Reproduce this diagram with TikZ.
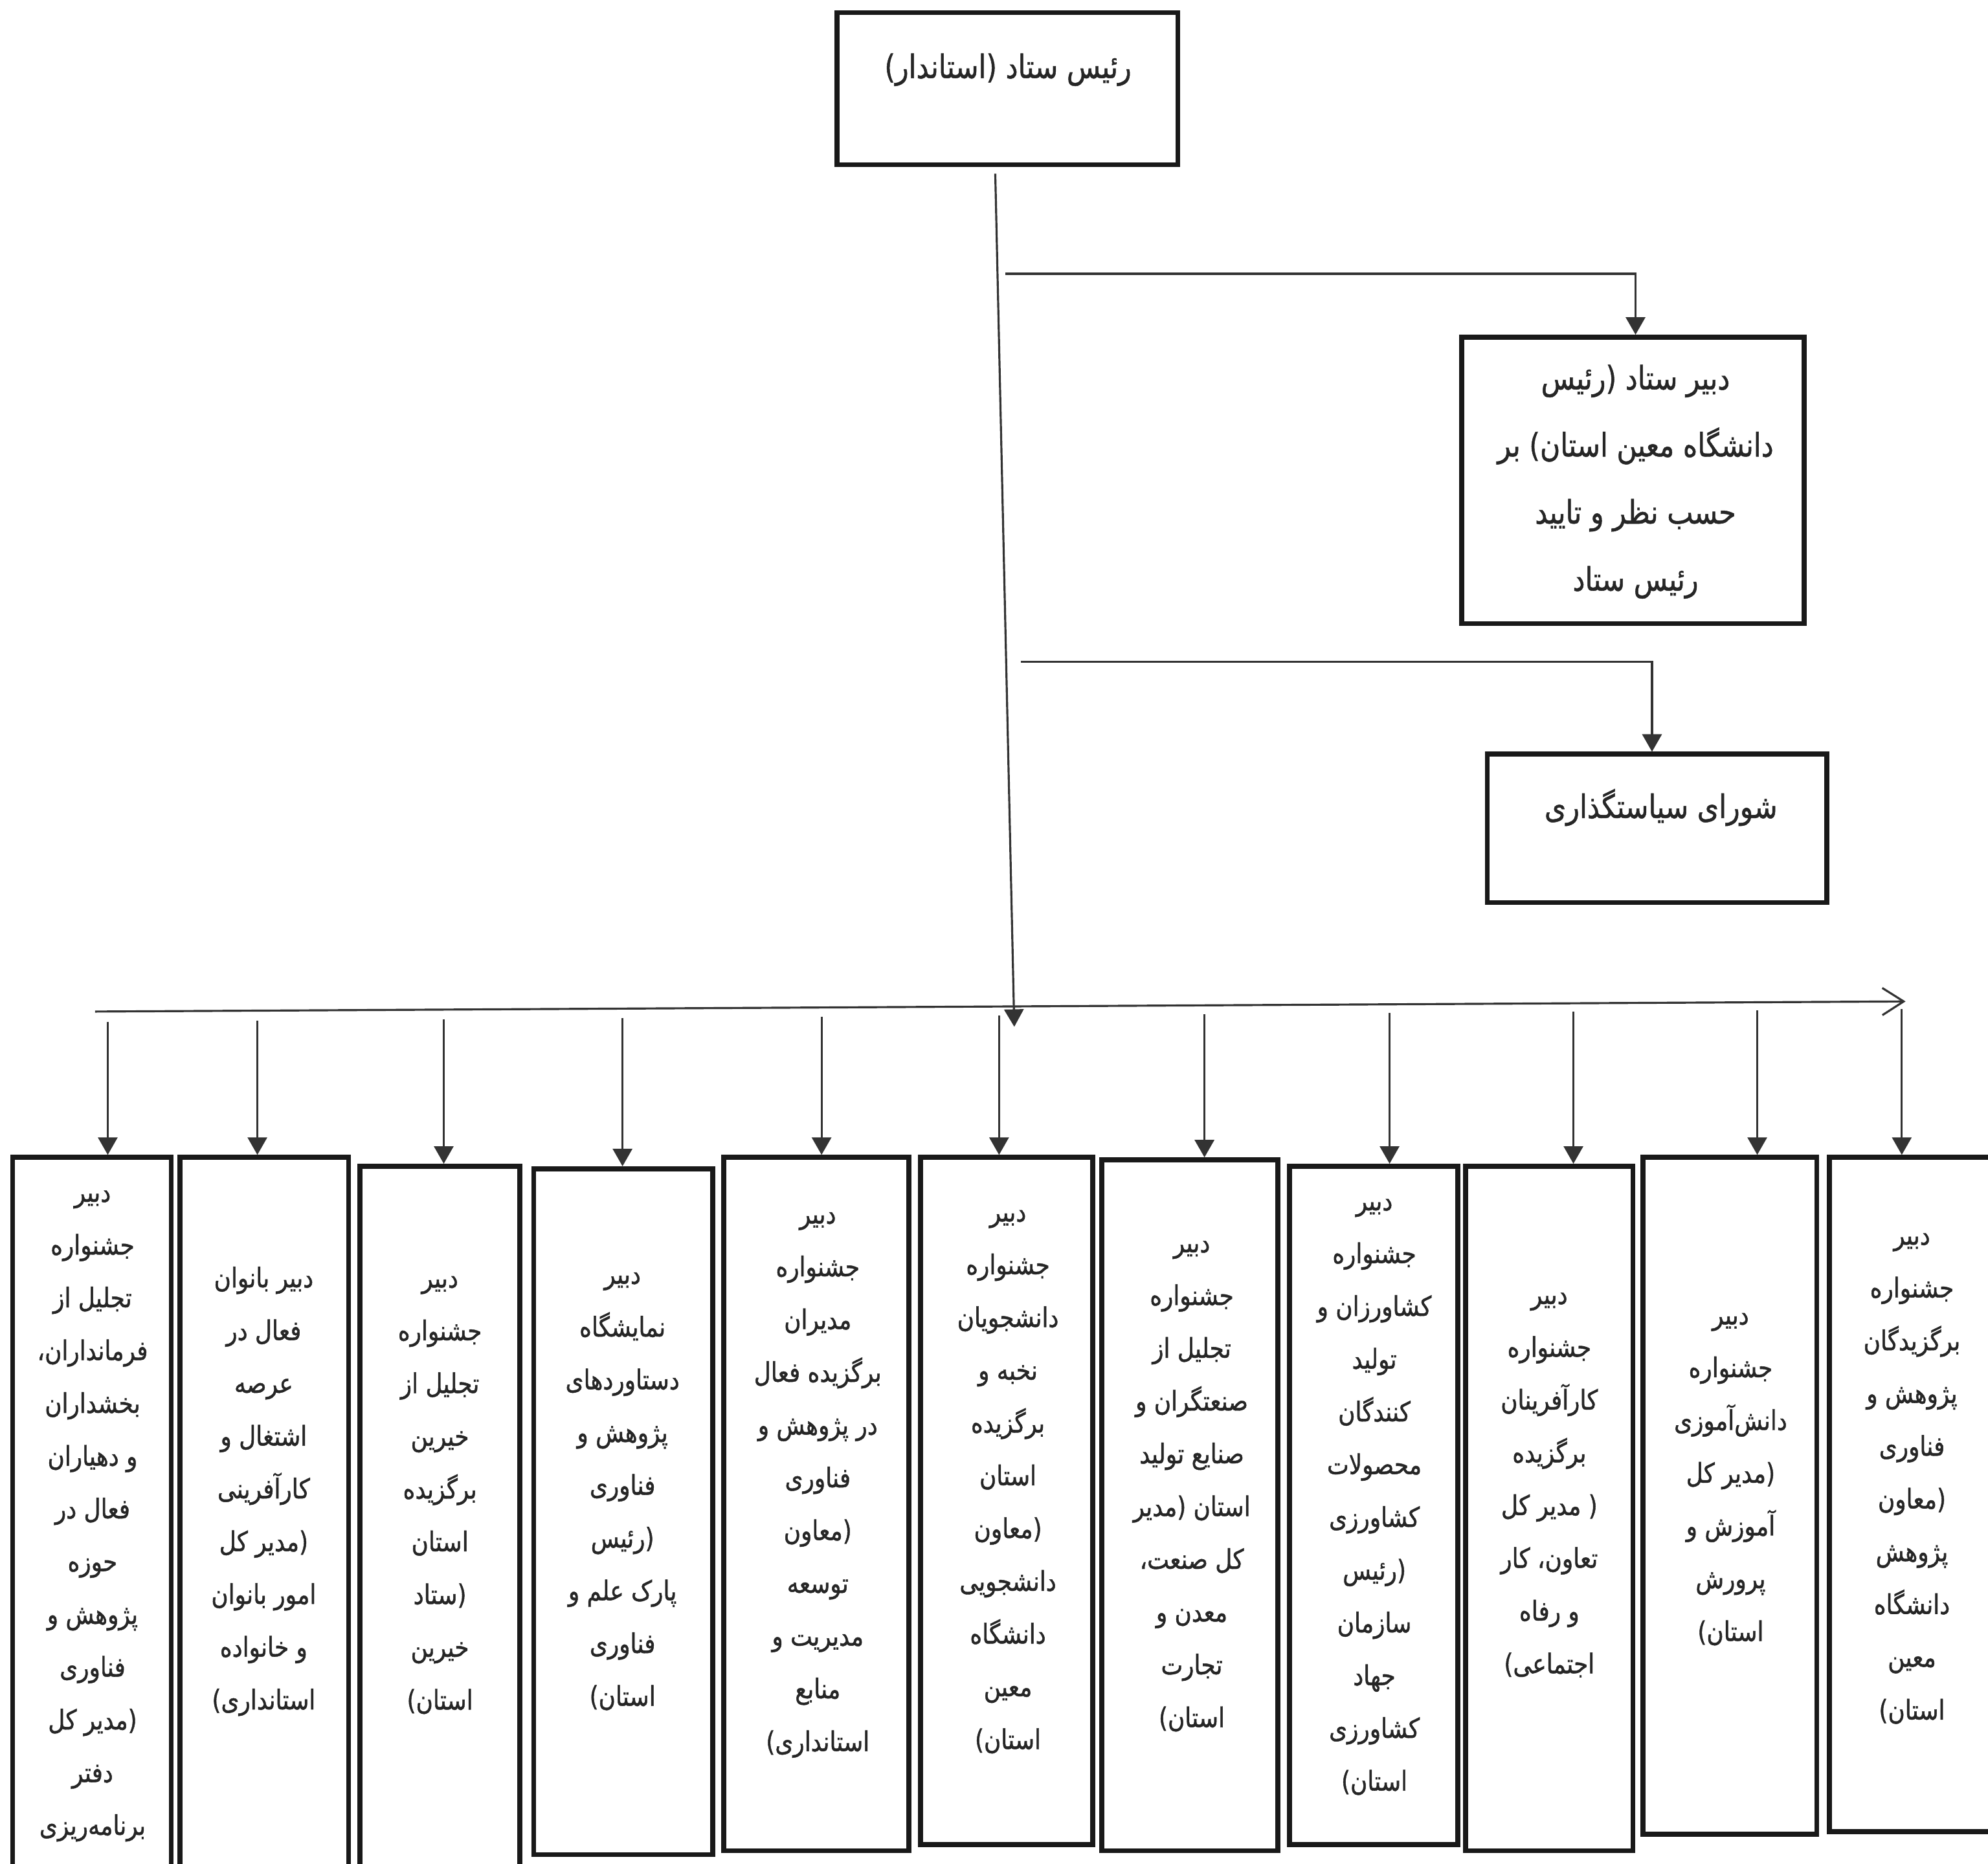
\documentclass[tikz,border=0pt]{standalone}
\usepackage{fontspec}
\newfontfamily\arabicfont[Script=Arabic,FakeStretch=0.85,FakeBold=1]{DejaVu Sans}
\TeXXeTstate=1
\usetikzlibrary{arrows.meta,fit}
\newcommand\rl[1]{\beginR #1\endR}
\begin{document}
\begin{tikzpicture}[x=0.019585cm,y=-0.019585cm,
  bx/.style={draw=black!90, line width=2.2pt, inner sep=0pt},
  ln/.style={draw=black!80, line width=0.9pt},
  arr/.style={ln, -{Triangle[width=0.3cm,length=0.27cm]}},
  openarr/.style={ln, -{Straight Barb[width=0.42cm,length=0.33cm]}},
  txs/.style={font=\arabicfont\fontsize{12}{23.2}\selectfont, align=center, text=black!85, inner sep=0pt},
  txb/.style={font=\arabicfont\fontsize{14.3}{29.5}\selectfont, align=center, text=black!85, inner sep=0pt}]
\useasboundingbox (0,0) rectangle (1568,1470);
\fill[white] (0,0) rectangle (1568,1470);
\clip (0,0) rectangle (1568,1470);

% upper boxes
\node[bx, fit={(660,10) (929,130)}] (top) {};
\node[txb] (ttop) at (795,55) {\rl{رئیس ستاد (استاندار)}};

\node[bx, fit={(1153,266) (1423,492)}] (sec) {};
\node[txb] (tsec) at (1290,380) {\rl{دبیر ستاد (رئیس}\\\rl{دانشگاه معین استان) بر}\\\rl{حسب نظر و تایید}\\\rl{رئیس ستاد}};

\node[bx, fit={(1173,595) (1441,712)}] (pol) {};
\node[txb] (tpol) at (1310,637) {\rl{شورای سیاستگذاری}};

% main trunk
\coordinate (mtop) at (785,137);
\coordinate (mbot) at (800,810);
\draw[arr] (mtop) -- (mbot);

% branch to secretary
\coordinate (br1) at (793,216);
\coordinate (br1c) at (1290,216);
\draw[arr] (br1) -- (br1c) -- (br1c |- sec.north);

% branch to policy council
\coordinate (br2) at (805,522);
\coordinate (br2c) at (1303,522);
\draw[arr] (br2) -- (br2c) -- (br2c |- pol.north);

% bus
\coordinate (busL) at (75,798);
\coordinate (busR) at (1503,790);
\draw[openarr] (busL) -- (busR);

% bottom boxes
\node[bx, fit={(10,913) (135,1480)}] (b1) {};
\node[bx, fit={(142,913) (275,1480)}] (b2) {};
\node[bx, fit={(284,920) (410,1480)}] (b3) {};
\node[bx, fit={(421,922) (562,1463)}] (b4) {};
\node[bx, fit={(571,913) (717,1460)}] (b5) {};
\node[bx, fit={(726,913) (862,1455)}] (b6) {};
\node[bx, fit={(869,915) (1008,1460)}] (b7) {};
\node[bx, fit={(1017,920) (1150,1455)}] (b8) {};
\node[bx, fit={(1156,920) (1288,1460)}] (b9) {};
\node[bx, fit={(1296,913) (1433,1447)}] (b10) {};
\node[bx, fit={(1443,913) (1580,1445)}] (b11) {};

% drops
\coordinate (d1) at (85,806);
\coordinate (d2) at (203,805);
\coordinate (d3) at (350,804);
\coordinate (d4) at (491,803);
\coordinate (d5) at (648,802);
\coordinate (d6) at (788,801);
\coordinate (d7) at (950,800);
\coordinate (d8) at (1096,799);
\coordinate (d9) at (1241,798);
\coordinate (d10) at (1386,797);
\coordinate (d11) at (1500,796);
\foreach \i in {1,...,11} {\draw[arr] (d\i) -- (d\i |- b\i.north);}

% bottom texts
\node[txs] (t1) at (73,1196) {\rl{دبیر}\\\rl{جشنواره}\\\rl{تجلیل از}\\\rl{فرمانداران،}\\\rl{بخشداران}\\\rl{و دهیاران}\\\rl{فعال در}\\\rl{حوزه}\\\rl{پژوهش و}\\\rl{فناوری}\\\rl{(مدیر کل}\\\rl{دفتر}\\\rl{برنامه‌ریزی}};
\node[txs] (t2) at (208,1176.5) {\rl{دبیر بانوان}\\\rl{فعال در}\\\rl{عرصه}\\\rl{اشتغال و}\\\rl{کارآفرینی}\\\rl{(مدیر کل}\\\rl{امور بانوان}\\\rl{و خانواده}\\\rl{استانداری)}};
\node[txs] (t3) at (347,1179.5) {\rl{دبیر}\\\rl{جشنواره}\\\rl{تجلیل از}\\\rl{خیرین}\\\rl{برگزیده}\\\rl{استان}\\\rl{(ستاد}\\\rl{خیرین}\\\rl{استان)}};
\node[txs] (t4) at (491,1176.5) {\rl{دبیر}\\\rl{نمایشگاه}\\\rl{دستاوردهای}\\\rl{پژوهش و}\\\rl{فناوری}\\\rl{(رئیس}\\\rl{پارک علم و}\\\rl{فناوری}\\\rl{استان)}};
\node[txs] (t5) at (645,1171.5) {\rl{دبیر}\\\rl{جشنواره}\\\rl{مدیران}\\\rl{برگزیده فعال}\\\rl{در پژوهش و}\\\rl{فناوری}\\\rl{(معاون}\\\rl{توسعه}\\\rl{مدیریت و}\\\rl{منابع}\\\rl{استانداری)}};
\node[txs] (t6) at (795,1169) {\rl{دبیر}\\\rl{جشنواره}\\\rl{دانشجویان}\\\rl{نخبه و}\\\rl{برگزیده}\\\rl{استان}\\\rl{(معاون}\\\rl{دانشجویی}\\\rl{دانشگاه}\\\rl{معین}\\\rl{استان)}};
\node[txs] (t7) at (940,1172.5) {\rl{دبیر}\\\rl{جشنواره}\\\rl{تجلیل از}\\\rl{صنعتگران و}\\\rl{صنایع تولید}\\\rl{استان (مدیر}\\\rl{کل صنعت،}\\\rl{معدن و}\\\rl{تجارت}\\\rl{استان)}};
\node[txs] (t8) at (1084,1181) {\rl{دبیر}\\\rl{جشنواره}\\\rl{کشاورزان و}\\\rl{تولید}\\\rl{کنندگان}\\\rl{محصولات}\\\rl{کشاورزی}\\\rl{(رئیس}\\\rl{سازمان}\\\rl{جهاد}\\\rl{کشاورزی}\\\rl{استان)}};
\node[txs] (t9) at (1222,1171.5) {\rl{دبیر}\\\rl{جشنواره}\\\rl{کارآفرینان}\\\rl{برگزیده}\\\rl{( مدیر کل}\\\rl{تعاون، کار}\\\rl{و رفاه}\\\rl{اجتماعی)}};
\node[txs] (t10) at (1365,1167) {\rl{دبیر}\\\rl{جشنواره}\\\rl{دانش‌آموزی}\\\rl{(مدیر کل}\\\rl{آموزش و}\\\rl{پرورش}\\\rl{استان)}};
\node[txs] (t11) at (1508,1166.5) {\rl{دبیر}\\\rl{جشنواره}\\\rl{برگزیدگان}\\\rl{پژوهش و}\\\rl{فناوری}\\\rl{(معاون}\\\rl{پژوهش}\\\rl{دانشگاه}\\\rl{معین}\\\rl{استان)}};
\end{tikzpicture}
\end{document}
